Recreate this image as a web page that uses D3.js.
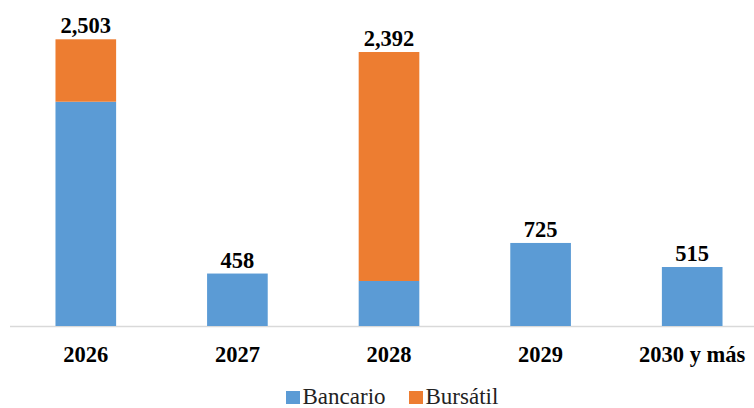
<!DOCTYPE html>
<html><head><meta charset="utf-8">
<script src="https://cdn.jsdelivr.net/npm/d3@7"></script>
<style>html,body{margin:0;padding:0;background:#fff;}svg{display:block;}</style>
</head><body>
<svg id="c" width="754" height="408"></svg>
<script>
const categories = ["2026", "2027", "2028", "2029", "2030 y más"];
const bancario = [1958, 458, 393, 725, 515];
const bursatil = [545, 0, 1999, 0, 0];
const totalLabels = ["2,503", "458", "2,392", "725", "515"];
const seriesNames = ["Bancario", "Bursátil"];
const colors = ["#5B9BD5", "#ED7D31"];

const FONT = "Liberation Serif";
const svg = d3.select("#c");
const baseY = 326;
const x = d3.scaleBand().domain(categories).range([10, 768]).paddingInner(0.6).paddingOuter(0.3);
const y = d3.scaleLinear().domain([0, 2503]).range([baseY, 39.3]);

const rows = categories.map((c, i) => ({cat: c, Bancario: bancario[i], "Bursátil": bursatil[i], label: totalLabels[i]}));
const stacked = d3.stack().keys(seriesNames)(rows);

svg.append("line").attr("x1", 10).attr("x2", 754).attr("y1", baseY + 0.5).attr("y2", baseY + 0.5)
  .attr("stroke", "#d9d9d9").attr("stroke-width", 1.5);

svg.selectAll("g.s").data(stacked).join("g").attr("class", "s")
  .attr("fill", (d, i) => colors[i])
  .selectAll("rect").data(d => d.filter(p => p[1] > p[0])).join("rect")
  .attr("x", d => x(d.data.cat)).attr("width", x.bandwidth())
  .attr("y", d => y(d[1])).attr("height", d => y(d[0]) - y(d[1]));

svg.selectAll("text.v").data(rows).join("text").attr("class", "v serif-b")
  .attr("x", d => x(d.cat) + x.bandwidth() / 2)
  .attr("y", d => y(d.Bancario + d["Bursátil"]) - 6)
  .attr("text-anchor", "middle").attr("fill", "#000")
  .text(d => d.label);

const ax = svg.append("g").attr("transform", `translate(0,${baseY})`)
  .call(d3.axisBottom(x).tickSize(0).tickPadding(0));
ax.select(".domain").remove();
ax.selectAll("text").attr("class", "serif-b")
  .attr("fill", "#000").attr("dy", 0).attr("y", 36);

const legendX = [286, 409];
const lg = svg.selectAll("g.lg").data(seriesNames).join("g").attr("class", "lg")
  .attr("transform", (d, i) => `translate(${legendX[i]},0)`);
lg.append("rect").attr("x", 0).attr("y", 391).attr("width", 14).attr("height", 13)
  .attr("fill", (d, i) => colors[i]);
lg.append("text").attr("class", "serif-r").attr("x", 16.5).attr("y", 404)
  .attr("fill", "#222").text(d => d);

function applyFonts() {
  svg.selectAll("text.serif-b").each(function () {
    const t = d3.select(this);
    if (t.attr("font-family") !== FONT) t.attr("font-family", FONT);
    t.attr("font-weight", "bold").attr("font-size", 22.5);
    this.style.setProperty("font-family", FONT, "important");
    this.style.setProperty("font-weight", "bold", "important");
    this.style.setProperty("font-size", "22.5px", "important");
  });
  svg.selectAll("text.serif-r").each(function () {
    const t = d3.select(this);
    if (t.attr("font-family") !== FONT) t.attr("font-family", FONT);
    t.attr("font-size", 23);
    this.style.setProperty("font-family", FONT, "important");
    this.style.setProperty("font-weight", "normal", "important");
    this.style.setProperty("font-size", "23px", "important");
  });
}
ax.attr("font-family", FONT);
applyFonts();
window.addEventListener("load", applyFonts);
setTimeout(applyFonts, 0);
setTimeout(applyFonts, 50);
</script>
</body></html>
